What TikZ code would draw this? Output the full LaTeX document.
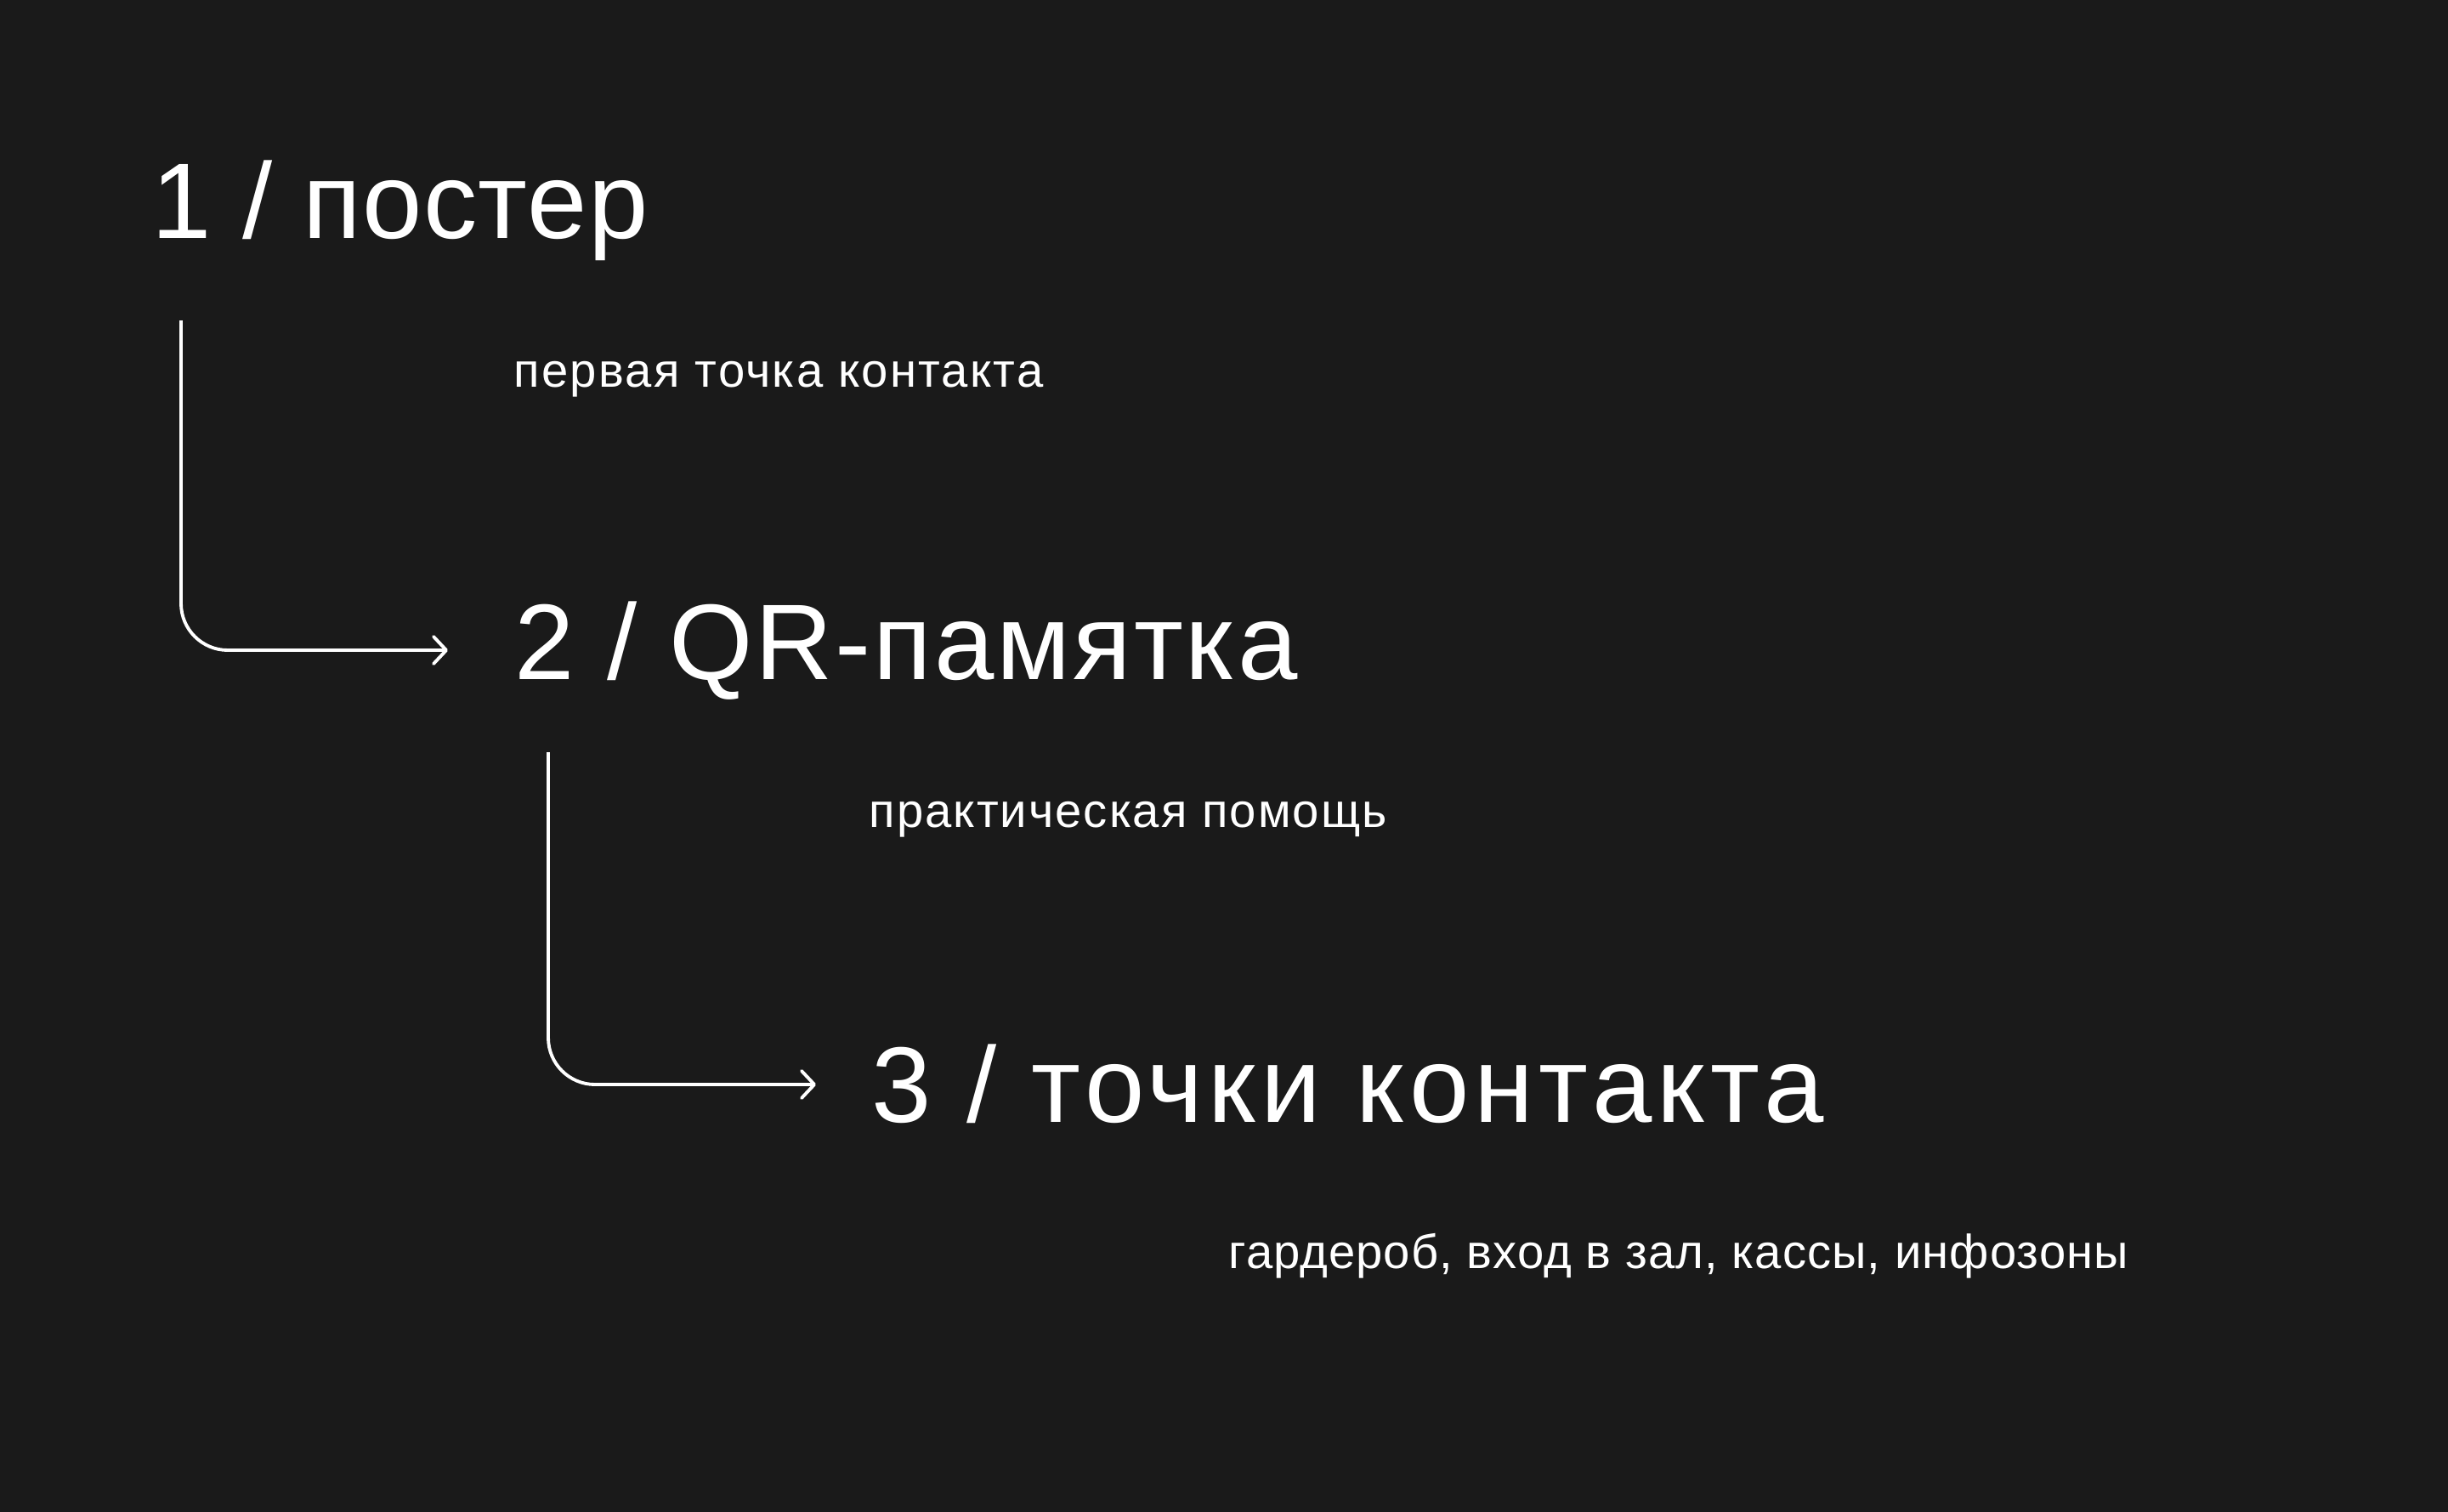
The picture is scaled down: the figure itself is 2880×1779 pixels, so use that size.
\documentclass[tikz,border=0pt]{standalone}
\usepackage{fontspec}
\setmainfont{Liberation Sans}
\usetikzlibrary{calc,arrows.meta}
\definecolor{bg}{HTML}{1A1A1A}
\begin{document}
\begin{tikzpicture}[x=0.1mm,y=-0.1mm,
  title/.style={anchor=base west,inner sep=0,text=white,font=\fontsize{36}{40}\selectfont},
  sub/.style={anchor=base west,inner sep=0,text=white,font=\fontsize{16}{19}\selectfont},
  flow/.style={draw=white,line width=1.1pt,rounded corners=5.5mm,-{Straight Barb[length=1.5mm,width=3.2mm,round]}}]
\fill[bg] (0,0) rectangle (2880,1779);
\useasboundingbox (0,0) rectangle (2880,1779);
\node[title] (t1) at (178,280) {\addfontfeatures{LetterSpace=1}1 / постер};
\node[sub] (s1) at (604,455) {\addfontfeatures{LetterSpace=4}первая точка контакта};
\node[title] (t2) at (605,799) {\addfontfeatures{LetterSpace=2.3}2 / QR-памятка};
\node[sub] (s2) at (1022,973) {\addfontfeatures{LetterSpace=3.6}практическая помощь};
\node[title] (t3) at (1025,1320) {\addfontfeatures{LetterSpace=4.8}3 / точки контакта};
\node[sub] (s3) at (1445,1492) {\addfontfeatures{LetterSpace=1.9}гардероб, вход в зал, кассы, инфозоны};
\draw[flow] ($(t1.base west)+(35,97)$) |- ($(t2.base west)+(-78,-34)$);
\draw[flow] ($(t2.base west)+(40,86)$) |- ($(t3.base west)+(-65,-44)$);
\end{tikzpicture}
\end{document}
